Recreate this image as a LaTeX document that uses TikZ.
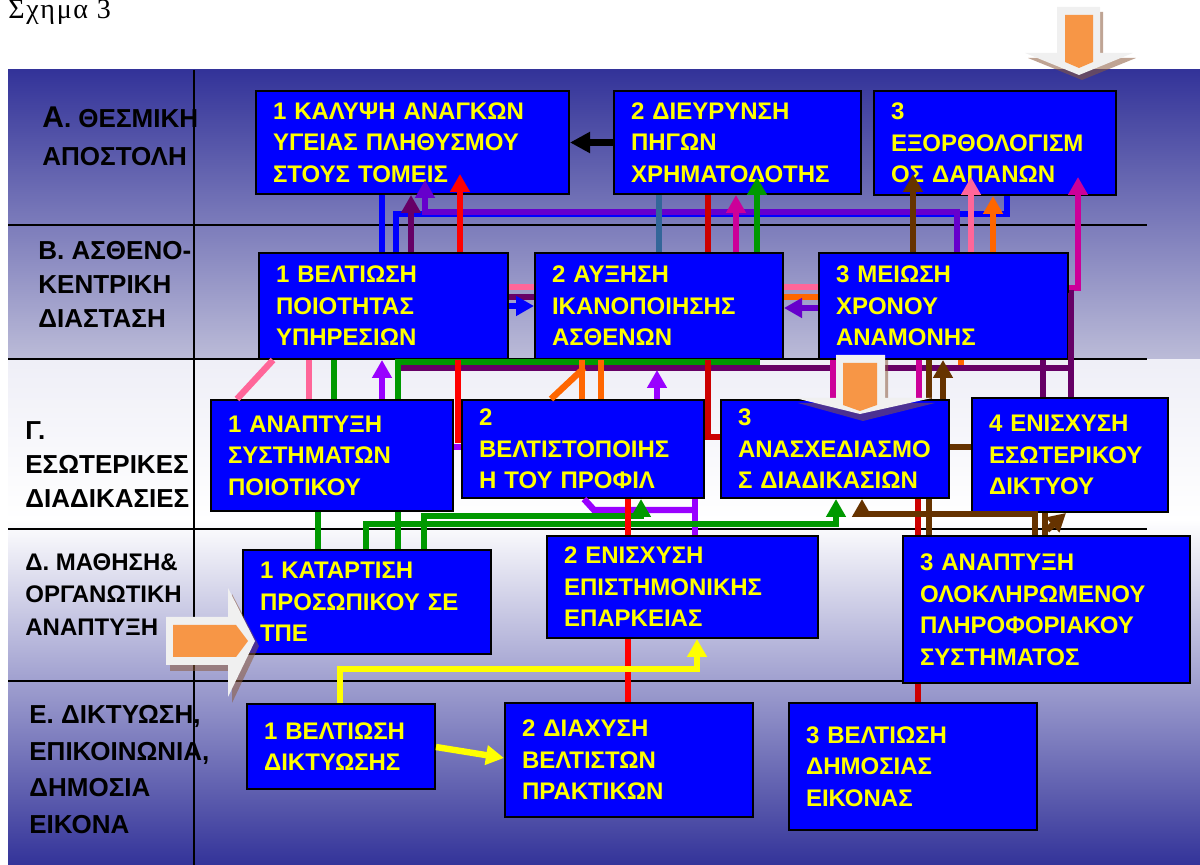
\documentclass[tikz,border=0pt]{standalone}
\usepackage{fontspec}
\setmainfont{Liberation Sans}
\newfontfamily\titlefont[LetterSpace=6]{Liberation Serif}
\usetikzlibrary{arrows.meta}
\definecolor{bgblue}{RGB}{51,51,153}
\definecolor{bgmid}{RGB}{188,188,216}
\definecolor{boxblue}{HTML}{0000FF}
\definecolor{boxtext}{HTML}{FFFF00}
\definecolor{lnblue}{HTML}{0000FF}
\definecolor{lnplum}{HTML}{660066}
\definecolor{lnred}{HTML}{FF0000}
\definecolor{lnmaroon}{HTML}{CC0000}
\definecolor{lnsteel}{HTML}{336699}
\definecolor{lnmagenta}{HTML}{CC0099}
\definecolor{lngreen}{HTML}{009900}
\definecolor{lnbrown}{HTML}{663300}
\definecolor{lnpink}{HTML}{FF6699}
\definecolor{lnorange}{HTML}{FF6600}
\definecolor{lnyellow}{HTML}{FFFF00}
\definecolor{lnviolet}{HTML}{9900FF}
\definecolor{lnpurple}{HTML}{6600CC}
\definecolor{blockorange}{HTML}{F79646}
\definecolor{bevelbrown}{RGB}{139,90,60}
\tikzset{
    goal/.style={draw=black,line width=1pt,fill=boxblue,text=boxtext,anchor=north west,align=left,
        inner xsep=8.5pt,inner ysep=0pt,font=\bfseries\fontsize{12}{15.75}\selectfont},
    lane/.style={anchor=north west,align=left,inner sep=0pt,font=\bfseries\fontsize{13}{17}\selectfont},
    link/.style={line width=3.2pt},
    arrow/.style={-{Triangle[width=9.5pt,length=9pt]}},
    deep/.style={shorten >=-#1},
    rowline/.style={line width=1pt,black},
    bevel/.style={fill=bevelbrown,opacity=.55},
    blockwhite/.style={fill=white!94!black}
}
\begin{document}
\begin{tikzpicture}[x=0.5pt,y=-0.5pt]
    \useasboundingbox (0,0) rectangle (1200,865);
    % background bands
    \shade[top color=bgblue,bottom color=bgmid] (8,70) rectangle (1200,360);
    \shade[top color=white!92!bgblue,bottom color=white] (8,360) rectangle (1200,520);
    \shade[top color=white,bottom color=bgblue] (8,520) rectangle (1200,865);
    \draw[rowline] (8,225.5) -- (1147,225.5);
    \draw[rowline] (8,359) -- (1147,359);
    \draw[rowline] (8,529.5) -- (1147,529.5);
    \draw[rowline] (8,681.5) -- (1147,681.5);
    \draw[rowline] (194,70) -- (194,865);

    \node[anchor=base west,inner sep=0pt,font=\titlefont\fontsize{14}{16}\selectfont] (title) at (8,19) {Σχημα 3};

    % row labels
    \node[lane,font=\bfseries\fontsize{13}{19}\selectfont] (laneA) at (42,106) {{\fontsize{15}{19}\selectfont Α}. ΘΕΣΜΙΚΗ\\ΑΠΟΣΤΟΛΗ};
    \node[lane] (laneB) at (38,241) {Β. ΑΣΘΕΝΟ-\\ΚΕΝΤΡΙΚΗ\\ΔΙΑΣΤΑΣΗ};
    \node[lane] (laneC) at (25,421) {Γ.\\ΕΣΩΤΕΡΙΚΕΣ\\ΔΙΑΔΙΚΑΣΙΕΣ};
    \node[lane,font=\bfseries\fontsize{12}{16.25}\selectfont] (laneD) at (25,553) {Δ. ΜΑΘΗΣΗ\&\\ΟΡΓΑΝΩΤΙΚΗ\\ΑΝΑΠΤΥΞΗ};
    \node[lane,font=\bfseries\fontsize{13}{18.3}\selectfont] (laneE) at (29,705) {Ε. ΔΙΚΤΥΩΣΗ,\\ΕΠΙΚΟΙΝΩΝΙΑ,\\ΔΗΜΟΣΙΑ\\ΕΙΚΟΝΑ};

    % goals
    \node[goal,text width=139.5pt,minimum height=51.5pt] (A1) at (255,90) {1~ΚΑΛΥΨΗ~ΑΝΑΓΚΩΝ\\ΥΓΕΙΑΣ~ΠΛΗΘΥΣΜΟΥ\\ΣΤΟΥΣ~ΤΟΜΕΙΣ};
    \node[goal,text width=106.5pt,minimum height=51.5pt] (A2) at (613,90) {2~ΔΙΕΥΡΥΝΣΗ\\ΠΗΓΩΝ\\ΧΡΗΜΑΤΟΔΟΤΗΣ};
    \node[goal,text width=104pt,minimum height=52pt] (A3) at (873,90) {3\\ΕΞΟΡΘΟΛΟΓΙΣΜ\\ΟΣ~ΔΑΠΑΝΩΝ};
    \node[goal,text width=107.5pt,minimum height=53pt] (B1) at (258,252) {1~ΒΕΛΤΙΩΣΗ\\ΠΟΙΟΤΗΤΑΣ\\ΥΠΗΡΕΣΙΩΝ};
    \node[goal,text width=107pt,minimum height=53pt] (B2) at (534,252) {2~ΑΥΞΗΣΗ\\ΙΚΑΝΟΠΟΙΗΣΗΣ\\ΑΣΘΕΝΩΝ};
    \node[goal,text width=107.5pt,minimum height=53pt] (B3) at (818,252) {3~ΜΕΙΩΣΗ\\ΧΡΟΝΟΥ\\ΑΝΑΜΟΝΗΣ};
    \node[goal,text width=104pt,minimum height=55.5pt] (C1) at (210,399) {1~ΑΝΑΠΤΥΞΗ\\ΣΥΣΤΗΜΑΤΩΝ\\ΠΟΙΟΤΙΚΟΥ};
    \node[goal,text width=104pt,minimum height=49pt] (C2) at (461,399) {2\\ΒΕΛΤΙΣΤΟΠΟΙΗΣ\\Η~ΤΟΥ~ΠΡΟΦΙΛ};
    \node[goal,text width=97pt,minimum height=49pt] (C3) at (720,399) {3\\ΑΝΑΣΧΕΔΙΑΣΜΟ\\Σ~ΔΙΑΔΙΚΑΣΙΩΝ};
    \node[goal,text width=81pt,minimum height=57pt] (C4) at (971,397) {4~ΕΝΙΣΧΥΣΗ\\ΕΣΩΤΕΡΙΚΟΥ\\ΔΙΚΤΥΟΥ};
    \node[goal,text width=107pt,minimum height=52pt] (D1) at (242,549) {1~ΚΑΤΑΡΤΙΣΗ\\ΠΡΟΣΩΠΙΚΟΥ~ΣΕ\\ΤΠΕ};
    \node[goal,text width=118.5pt,minimum height=51pt] (D2) at (546,535) {2~ΕΝΙΣΧΥΣΗ\\ΕΠΙΣΤΗΜΟΝΙΚΗΣ\\ΕΠΑΡΚΕΙΑΣ};
    \node[goal,text width=126.5pt,minimum height=73.5pt] (D3) at (902,535) {3~ΑΝΑΠΤΥΞΗ\\ΟΛΟΚΛΗΡΩΜΕΝΟΥ\\ΠΛΗΡΟΦΟΡΙΑΚΟΥ\\ΣΥΣΤΗΜΑΤΟΣ};
    \node[goal,text width=77pt,minimum height=42.5pt] (E1) at (246,703) {1~ΒΕΛΤΙΩΣΗ\\ΔΙΚΤΥΩΣΗΣ};
    \node[goal,text width=107pt,minimum height=57pt] (E2) at (504,702) {2~ΔΙΑΧΥΣΗ\\ΒΕΛΤΙΣΤΩΝ\\ΠΡΑΚΤΙΚΩΝ};
    \node[goal,text width=107pt,minimum height=63.5pt] (E3) at (788,702) {3~ΒΕΛΤΙΩΣΗ\\ΔΗΜΟΣΙΑΣ\\ΕΙΚΟΝΑΣ};

    % row A and A-B
    \draw[line width=3.5pt,-{Triangle[width=10pt,length=10pt]}] (A2.west) -- (A1.east);
    \draw[link,lnblue] (382,0 |- A1.south) -- (382,0 |- B1.north);
    \draw[link,lnblue] (1007,0 |- A3.south) |- (396,214) -- (396,0 |- B1.north);
    \draw[link,lnpurple,arrow,deep=7.5pt] (957,0 |- B3.north) |- (425,212) -- (425,0 |- A1.south);
    \draw[link,lnplum,arrow] (411,0 |- B1.north) -- (411,0 |- A1.south);
    \draw[link,lnred,arrow,deep=10.5pt] (460,0 |- B1.north) -- (460,0 |- A1.south);
    \draw[link,lnsteel] (659,0 |- A2.south) -- (659,0 |- B2.north);
    \draw[link,lnmaroon] (708,0 |- A2.south) -- (708,0 |- B2.north);
    \draw[link,lnmagenta,arrow] (736,0 |- B2.north) -- (736,0 |- A2.south);
    \draw[link,lngreen,arrow,deep=9pt] (757,0 |- B2.north) -- (757,0 |- A2.south);
    \draw[link,lnbrown,arrow,deep=11pt] (913,0 |- B3.north) -- (913,0 |- A3.south);
    \draw[link,lnpink,arrow,deep=9.5pt] (971,0 |- B3.north) -- (971,0 |- A3.south);
    \draw[link,lnorange,arrow] (993,0 |- B3.north) -- (993,0 |- A3.south);
    \draw[link,lnmagenta,arrow,deep=9.5pt] (B3.east |- 0,288) -| (1078,0 |- A3.south);

    % row B
    \draw[link,lnpink] (B1.east |- 0,287) -- (B2.west |- 0,287);
    \draw[link,lnpink] (B2.east |- 0,287) -- (B3.west |- 0,287);
    \draw[link,lnplum] (B1.east |- 0,297) -- (B2.west |- 0,297);
    \draw[link,lnorange] (B2.east |- 0,297) -- (B3.west |- 0,297);
    \draw[link,lnblue,arrow] (B1.east |- 0,306) -- (B2.west |- 0,306);
    \draw[link,lnpurple,arrow] (B3.west |- 0,308) -- (B2.east |- 0,308);
    \draw[link,lnplum] (B3.east |- 0,293) -| (1071,0 |- C4.north);

    % B-C
    \draw[link,lnplum] (1071,368) -- (400,368);
    \draw[link,lngreen] (398,0 |- C1.north) |- (760,362);
    \draw[link,lnpink] (273,0 |- B1.south) -- (237,0 |- C1.north);
    \draw[link,lnpink] (309,0 |- B1.south) -- (309,0 |- C1.north);
    \draw[link,lngreen] (334,0 |- B1.south) -- (334,0 |- C1.north);
    \draw[link,lnviolet,arrow] (382,0 |- C1.north) -- (382,0 |- B1.south);
    \draw[link,lnred] (458,0 |- B1.south) |- (C2.west |- 0,440);
    \draw[link,lnorange] (582,0 |- B2.south) -- (582,0 |- C2.north);
    \draw[link,lnorange] (601,0 |- B2.south) -- (601,0 |- C2.north);
    \draw[link,lnorange] (584,368) -- (551,0 |- C2.north);
    \draw[link,lnviolet,arrow,shorten >=5pt] (657,0 |- C2.north) -- (657,0 |- B2.south);
    \draw[link,lnmaroon] (708,0 |- B2.south) |- (C3.west |- 0,437);
    \draw[link,lnmagenta] (833,0 |- B3.south) -- (833,0 |- C3.north);
    \draw[link,lnmagenta] (919,0 |- B3.south) -- (919,0 |- C3.north);
    \draw[link,lnbrown] (929,0 |- B3.south) -- (929,0 |- C3.north);
    \draw[link,lnbrown,arrow] (943,0 |- C3.north) -- (943,0 |- B3.south);
    \draw[link,lnorange] (961,0 |- B3.south) -- (961,365);
    \draw[link,lnplum] (1043,0 |- B3.south) -- (1043,0 |- C4.north);

    % row C
    \draw[link,lnviolet] (C1.east |- 0,447) -- (C2.west |- 0,447);
    \draw[link,lnbrown] (C3.east |- 0,447) -- (C4.west |- 0,447);

    % C-D
    \draw[link,lngreen] (318,0 |- C1.south) -- (318,0 |- D1.north);
    \draw[link,lngreen] (398,0 |- C1.south) -- (398,0 |- D1.north);
    \draw[link,lnviolet] (695,0 |- D2.north) -- (695,0 |- C2.south);
    \draw[link,lnviolet] (695,510) -- (594,510) -- (584,0 |- C2.south);
    \draw[link,lngreen,arrow] (424,0 |- D1.north) |- (641,516) -- (641,0 |- C2.south);
    \draw[link,lngreen,arrow] (366,0 |- D1.north) |- (836,524) -- (836,0 |- C3.south);
    \draw[link,lnred] (628,0 |- C2.south) -- (628,0 |- D2.north);
    \draw[link,lnmaroon] (918,0 |- C3.south) -- (918,0 |- D3.north);
    \draw[link,lnbrown] (929,0 |- C3.south) -- (929,0 |- D3.north);
    \draw[link,lnbrown,arrow] (1035,0 |- D3.north) |- (862,514) -- (862,0 |- C3.south);
    \draw[link,lnbrown] (1045,0 |- C4.south) -- (1045,0 |- D3.north);
    \draw[link,lnbrown,arrow] (1047,530) -- (1066,0 |- C4.south);

    % D-E
    \draw[link,lnred] (628,0 |- D2.south) -- (628,0 |- E2.north);
    \draw[link,lnmaroon] (918,0 |- D3.south) -- (918,0 |- E3.north);
    \draw[link,lnyellow,arrow] (340,0 |- E1.north) |- (697,669) -- (697,0 |- D2.south);
    \draw[link,lnyellow,arrow] (E1.east |- 0,747) -- (E2.west |- 0,758);

    % block arrows
    \fill[bevel] (1060,12) -- (1103,12) -- (1103,58) -- (1136,58) -- (1082,80) -- (1028,58) -- (1060,58) -- cycle;
    \fill[blockwhite] (1057,7) -- (1100,7) -- (1100,53) -- (1133,53) -- (1079,75) -- (1025,53) -- (1057,53) -- cycle;
    \fill[blockorange] (1065,15) -- (1093,15) -- (1093,62) -- (1079,68) -- (1065,62) -- cycle;

    \fill[bevel] (839,360) -- (888,360) -- (888,403) -- (935,403) -- (863,421) -- (798,403) -- (839,403) -- cycle;
    \fill[blockwhite] (836,355) -- (885,355) -- (885,398) -- (932,398) -- (860,414) -- (795,398) -- (836,398) -- cycle;
    \fill[blockorange] (843,363) -- (877,363) -- (877,405) -- (860,411) -- (843,405) -- cycle;

    \fill[bevel] (170,623) -- (232,623) -- (232,594) -- (259,646) -- (232,703) -- (232,671) -- (170,671) -- cycle;
    \fill[blockwhite] (166,617) -- (228,617) -- (228,588) -- (255,641) -- (228,697) -- (228,665) -- (166,665) -- cycle;
    \fill[blockorange] (173,625) -- (236,625) -- (248,641) -- (236,657) -- (173,657) -- cycle;
\end{tikzpicture}
\end{document}
